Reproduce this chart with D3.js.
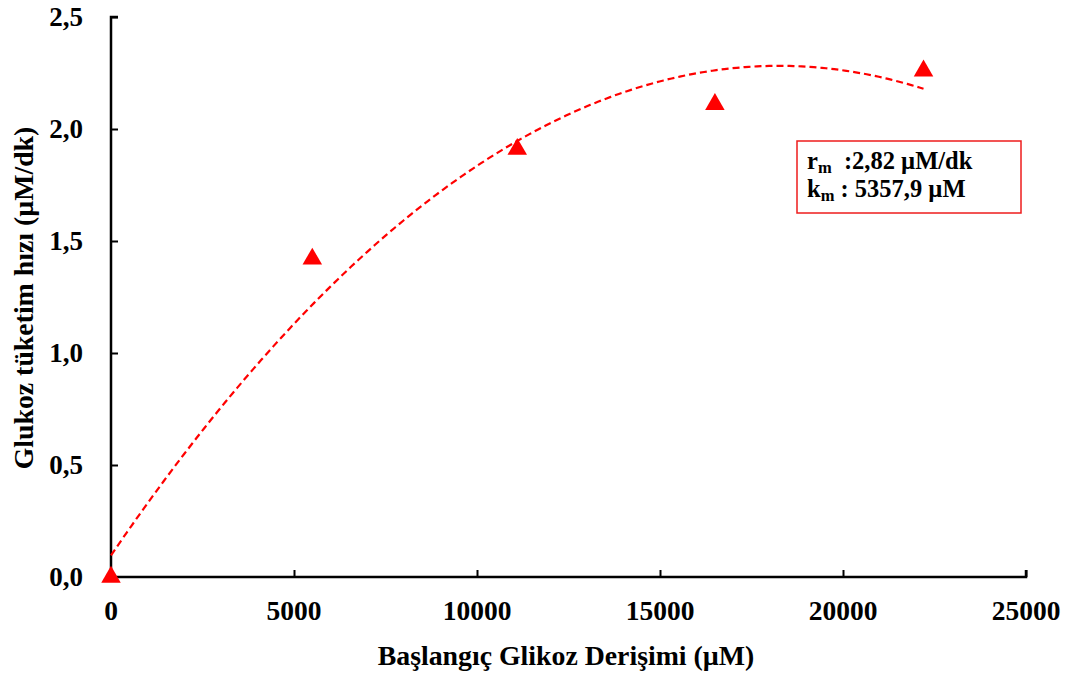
<!DOCTYPE html>
<html>
<head>
<meta charset="utf-8">
<script src="https://cdn.jsdelivr.net/npm/d3@7"></script>
<style>
  body { margin: 0; background: #fff; }
  text { font-family: "Liberation Serif", "Times New Roman", serif; font-weight: bold; fill: #000; }
</style>
</head>
<body>
<div class="container"></div>
<script>
// data
const concentrations = [0, 5500, 11100, 16500, 22200];   // µM
const rates = [0, 1.42, 1.91, 2.11, 2.26];                // µM/dk
const xTicks = [0, 5000, 10000, 15000, 20000, 25000];
const yTicks = [0, 0.5, 1.0, 1.5, 2.0, 2.5];
const legendLines = [
  { sym: "r", sub: "m", text: "  :2,82 µM/dk" },
  { sym: "k", sub: "m", text: " : 5357,9 µM" }
];

// svg dimensions
const width = 1066;
const height = 677;
const plotLeft = 111, plotRight = 1026, plotTop = 17, plotBottom = 577;

const svg = d3.select('.container')
  .append('svg')
  .attr('width', width)
  .attr('height', height);

const xScale = d3.scaleLinear().domain([0, 25000]).range([plotLeft, plotRight]);
const yScale = d3.scaleLinear().domain([0, 2.5]).range([plotBottom, plotTop]);

const comma = d => d3.format(".1f")(d).replace(".", ",");

// Y axis, ticks pointing inward
const yAxis = d3.axisRight(yScale).tickValues(yTicks).tickSize(7).tickFormat("");
svg.append('g')
  .attr('transform', `translate(${plotLeft},0)`)
  .call(yAxis)
  .call(g => g.select('.domain').attr('stroke-width', 2.5).attr('d', `M7,${plotTop}H0V${plotBottom}`))
  .call(g => g.selectAll('.tick line').attr('stroke-width', 2));

svg.append('g').selectAll('text')
  .data(yTicks)
  .enter()
  .append('text')
  .attr('x', 83)
  .attr('y', d => yScale(d) + 9)
  .attr('text-anchor', 'end')
  .attr('font-size', 27)
  .text(comma);

// X axis, ticks pointing up
const xAxis = d3.axisTop(xScale).tickValues(xTicks).tickSize(7).tickFormat("");
svg.append('g')
  .attr('transform', `translate(0,${plotBottom})`)
  .call(xAxis)
  .call(g => g.select('.domain').attr('stroke-width', 2.5).attr('d', `M${plotLeft},0H${plotRight}V-7`))
  .call(g => g.selectAll('.tick line').attr('stroke-width', 2));

svg.append('g').selectAll('text')
  .data(xTicks)
  .enter()
  .append('text')
  .attr('x', d => xScale(d))
  .attr('y', 620)
  .attr('text-anchor', 'middle')
  .attr('font-size', 27.5)
  .text(d => d);

// axis titles
svg.append('text')
  .attr('x', 566)
  .attr('y', 665)
  .attr('text-anchor', 'middle')
  .attr('font-size', 27.8)
  .text('Başlangıç Glikoz Derişimi (µM)');

svg.append('text')
  .attr('transform', 'translate(33,298) rotate(-90)')
  .attr('text-anchor', 'middle')
  .attr('font-size', 27.8)
  .text('Glukoz tüketim hızı (µM/dk)');

// quadratic least squares trendline (like the spreadsheet's polynomial fit)
function polyFit2(xs, ys) {
  const s = k => d3.sum(xs, x => Math.pow(x, k));
  const t = k => d3.sum(xs, (x, i) => Math.pow(x, k) * ys[i]);
  const A = [[s(0), s(1), s(2), t(0)], [s(1), s(2), s(3), t(1)], [s(2), s(3), s(4), t(2)]];
  for (let i = 0; i < 3; i++) {
    for (let j = i + 1; j < 3; j++) {
      const f = A[j][i] / A[i][i];
      for (let k = i; k < 4; k++) A[j][k] -= f * A[i][k];
    }
  }
  const c = [0, 0, 0];
  for (let i = 2; i >= 0; i--) {
    let v = A[i][3];
    for (let k = i + 1; k < 3; k++) v -= A[i][k] * c[k];
    c[i] = v / A[i][i];
  }
  return c;
}
const xs = concentrations.map(d => d / 1000);
const coef = polyFit2(xs, rates);
const trend = d3.range(0, 200 + 1).map(i => {
  const x = xs[0] + (xs[xs.length - 1] - xs[0]) * i / 200;
  return [x * 1000, coef[0] + coef[1] * x + coef[2] * x * x];
});

const line = d3.line()
  .x(d => xScale(d[0]))
  .y(d => yScale(d[1]))
  .curve(d3.curveLinear);

svg.append('path')
  .datum(trend)
  .attr('d', line)
  .attr('fill', 'none')
  .attr('stroke', '#ff0000')
  .attr('stroke-width', 2.2)
  .attr('stroke-dasharray', '7,4');

// points
svg.selectAll('.dot')
  .data(concentrations)
  .enter()
  .append('path')
  .attr('class', 'dot')
  .attr('d', d3.symbol().type(d3.symbolTriangle).size(165))
  .attr('transform', (d, i) => `translate(${xScale(d)},${yScale(rates[i])})`)
  .attr('fill', '#ff0000');

// legend box
const legend = svg.append('g').attr('id', 'legend');
legend.append('rect')
  .attr('x', 797)
  .attr('y', 141)
  .attr('width', 224)
  .attr('height', 72)
  .attr('fill', '#fff')
  .attr('stroke', '#ee1c1c')
  .attr('stroke-width', 1.5);

legend.selectAll('text')
  .data(legendLines)
  .enter()
  .append('text')
  .attr('x', 807)
  .attr('y', (d, i) => 169 + i * 28)
  .attr('font-size', 24.5)
  .attr('xml:space', 'preserve')
  .each(function(d) {
    const t = d3.select(this);
    t.append('tspan').text(d.sym);
    t.append('tspan').attr('font-size', 16.5).attr('dy', 4).text(d.sub);
    t.append('tspan').attr('dy', -4).text(d.text);
  });
</script>
</body>
</html>
